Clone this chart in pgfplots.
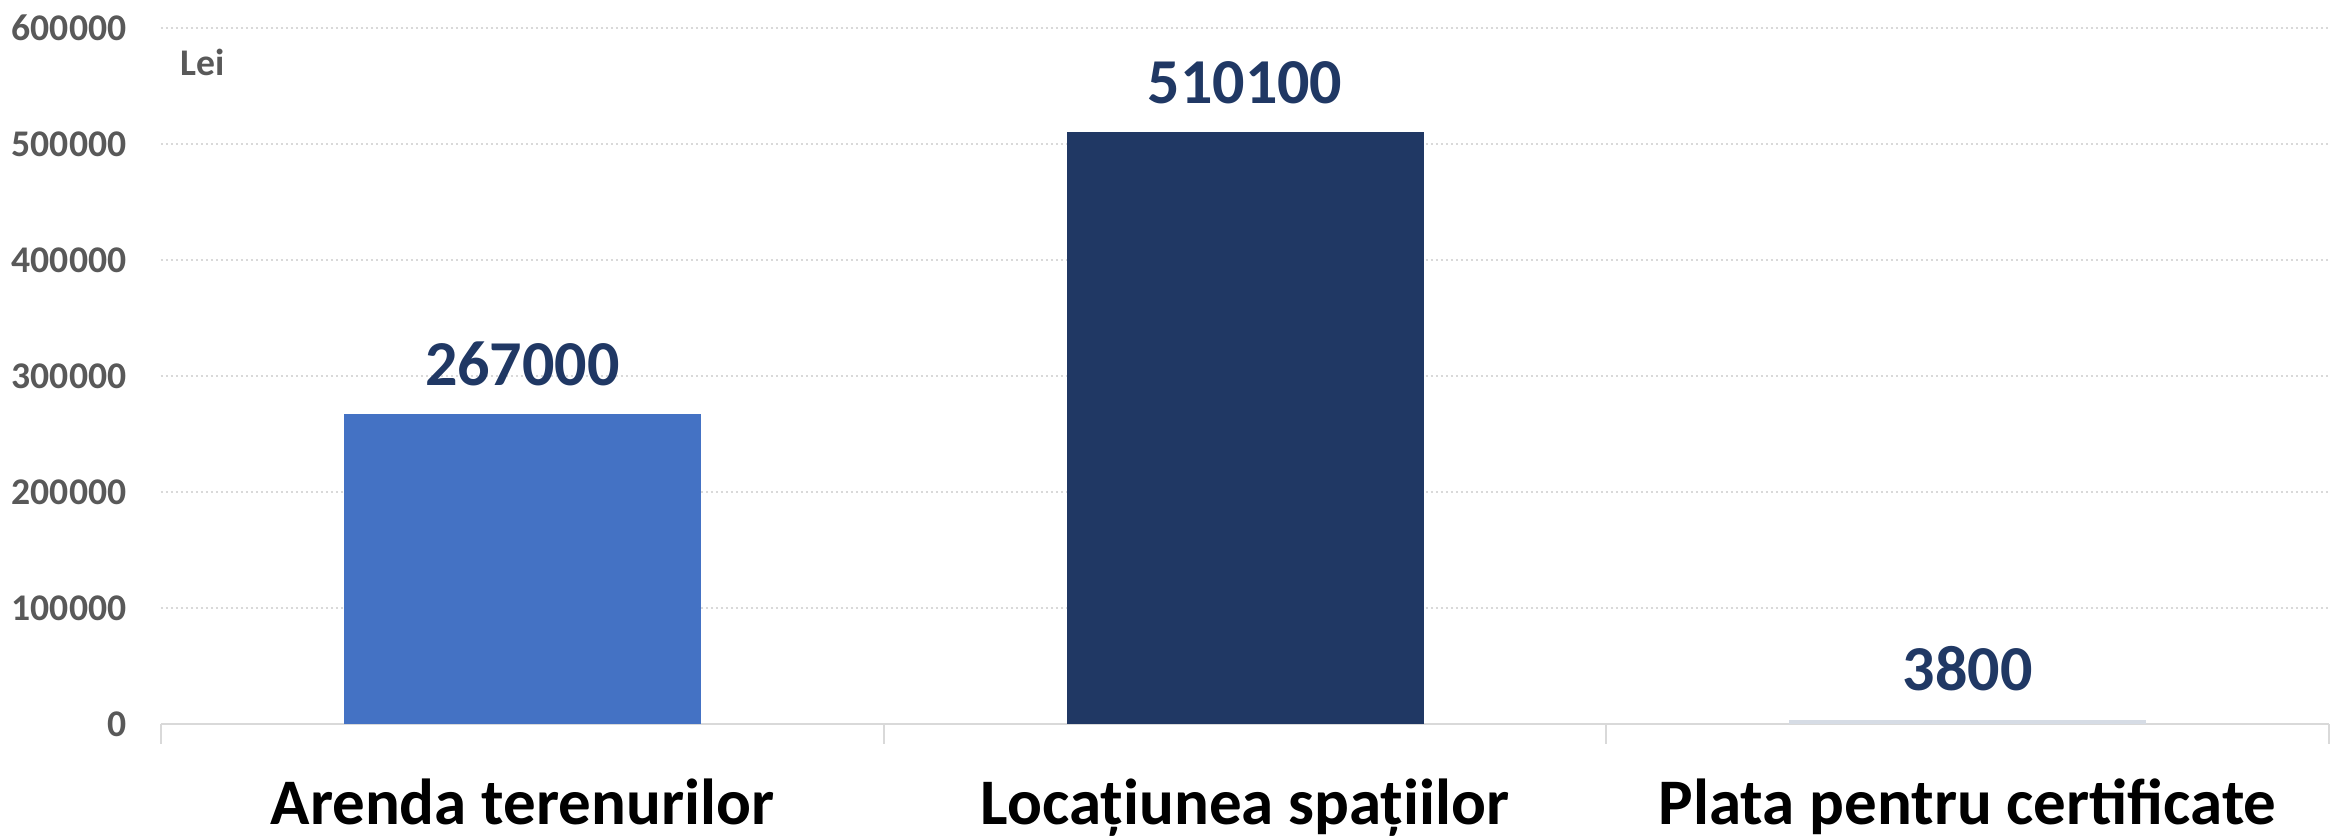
\documentclass[border=0pt]{standalone}
\usepackage{fontspec}
\setmainfont{Carlito}
\usepackage{pgfplots}
\pgfplotsset{compat=1.18}
\definecolor{barA}{HTML}{4472C4}
\definecolor{barB}{HTML}{203864}
\definecolor{barC}{HTML}{D6DCE5}
\definecolor{navy}{HTML}{203864}
\definecolor{tickgray}{HTML}{595959}
\definecolor{gridgray}{HTML}{D9D9D9}
\begin{document}
\begin{tikzpicture}
\useasboundingbox (0,0) rectangle (702.3pt,251.4pt);
\begin{axis}[
  at={(48.3pt,34.2pt)}, anchor=south west,
  scale only axis, width=650.4pt, height=208.8pt,
  xmin=-0.5, xmax=2.5, ymin=0, ymax=600000,
  ybar, bar width=0.494, bar shift=0pt,
  axis x line*=bottom, axis y line*=left,
  y axis line style={draw=none},
  x axis line style={draw=gridgray, line width=0.6pt},
  ytick={0,100000,200000,300000,400000,500000,600000},
  yticklabels={0,100000,200000,300000,400000,500000,600000},
  ymajorgrids, grid style={draw=gridgray, line width=0.6pt, dash pattern=on 0.6pt off 0.9pt},
  ytick style={draw=none},
  scaled y ticks=false,
  yticklabel style={font=\bfseries\fontsize{11.3}{13}\selectfont, text=tickgray, anchor=east, inner sep=0pt, xshift=-10.2pt},
  xtick={0,1,2},
  xticklabels={Arenda terenurilor, Locațiunea spațiilor, Plata pentru certificate},
  xtick style={draw=none},
  major tick length=0pt,
  xticklabel style={font=\bfseries\fontsize{19.5}{23}\selectfont, text=black, anchor=base, inner sep=0pt, yshift=-30.3pt},
  extra x ticks={-0.5,0.5,1.5,2.5},
  extra x tick labels={{},{},{},{}},
  extra x tick style={major tick length=6pt, tick align=outside, xtick style={draw=gridgray, line width=0.6pt}, xmajorgrids=false},
  point meta=explicit symbolic,
  nodes near coords,
  every node near coord/.append style={font=\bfseries\fontsize{19.2}{23}\selectfont, text=navy, anchor=south, inner sep=0pt, yshift=8.4pt},
  clip=false,
]
\addplot[fill=barA, draw=none] coordinates {(0,267000) [267000]};
\addplot[fill=barB, draw=none] coordinates {(1,510100) [510100]};
\addplot[fill=barC, draw=none] coordinates {(2,3800) [3800]};
\node[anchor=west, inner sep=0pt, font=\bfseries\fontsize{11.3}{13}\selectfont, text=tickgray] at (rel axis cs:0,0.951) [xshift=5.7pt] {Lei};
\end{axis}
\end{tikzpicture}
\end{document}
